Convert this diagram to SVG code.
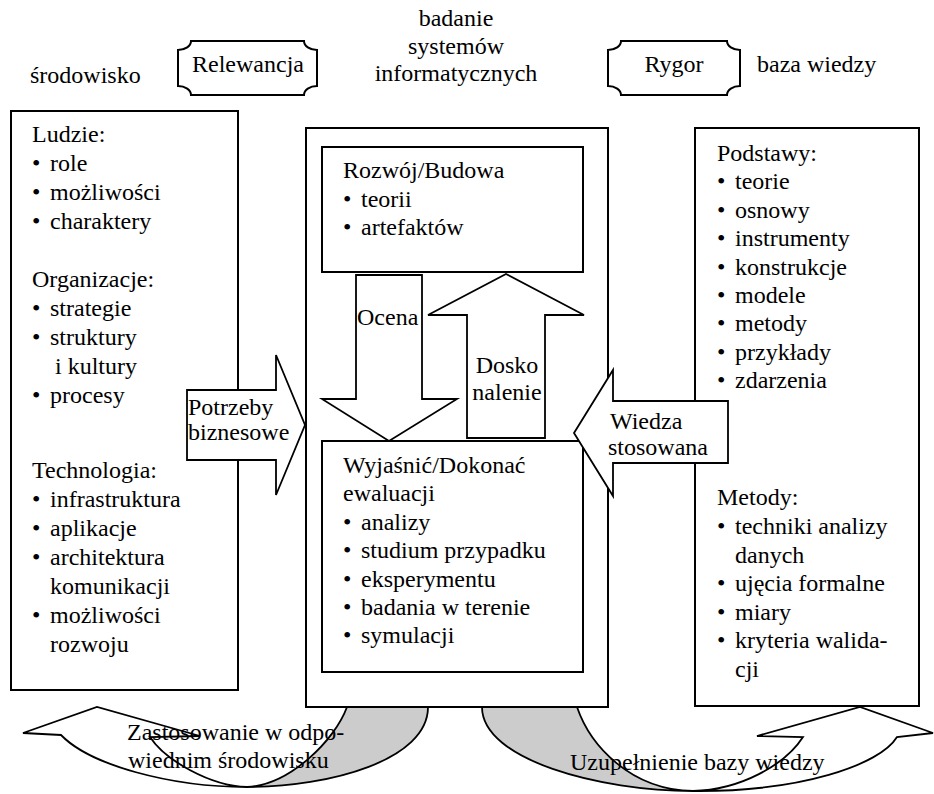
<svg xmlns="http://www.w3.org/2000/svg" width="934" height="794" viewBox="0 0 934 794">
<style>
.t{font-family:'Liberation Serif','DejaVu Serif','Noto Serif','Times New Roman',Times,serif;font-size:24px;fill:#000}
.c{text-anchor:middle}
.box{fill:#fff;stroke:#000;stroke-width:2}
.ar{fill:#fff;stroke:#000;stroke-width:1.8;stroke-linejoin:miter}
.gr{fill:#cccccc;stroke:#000;stroke-width:1.8}
.pl{fill:#fff;stroke:#000;stroke-width:2}
</style>
<rect width="934" height="794" fill="#fff"/>

<g id="top-labels" font-family="Liberation Serif, serif">
<text class="t" x="30" y="83">środowisko</text>
<text class="t c" x="456" y="26">badanie</text>
<text class="t c" x="456" y="54">systemów</text>
<text class="t c" x="456" y="81">informatycznych</text>
<text class="t" x="757" y="72">baza wiedzy</text>
</g>

<g id="relewancja">
<path class="pl" d="M191,41 H304 A13 9 0 0 0 317,50 V86 A13 9 0 0 0 304,95 H191 A13 9 0 0 0 178,86 V50 A13 9 0 0 0 191,41 Z"/>
<text class="t c" x="248" y="72">Relewancja</text>
</g>

<g id="rygor">
<path class="pl" d="M621,41 H727 A13 9 0 0 0 740,50 V86 A13 9 0 0 0 727,95 H621 A13 9 0 0 0 608,86 V50 A13 9 0 0 0 621,41 Z"/>
<text class="t c" x="674" y="72">Rygor</text>
</g>

<g id="srodowisko-box">
<rect class="box" x="11" y="111" width="227" height="579"/>
<text class="t" x="32" y="142">Ludzie:</text>
<text class="t"><tspan x="32" y="171">•</tspan><tspan x="50" y="171">role</tspan></text>
<text class="t"><tspan x="32" y="200">•</tspan><tspan x="50" y="200">możliwości</tspan></text>
<text class="t"><tspan x="32" y="229">•</tspan><tspan x="50" y="229">charaktery</tspan></text>
<text class="t" x="32" y="287">Organizacje:</text>
<text class="t"><tspan x="32" y="316">•</tspan><tspan x="50" y="316">strategie</tspan></text>
<text class="t"><tspan x="32" y="345">•</tspan><tspan x="50" y="345">struktury</tspan></text>
<text class="t" x="55" y="374">i kultury</text>
<text class="t"><tspan x="32" y="403">•</tspan><tspan x="50" y="403">procesy</tspan></text>
<text class="t" x="32" y="478">Technologia:</text>
<text class="t"><tspan x="32" y="507">•</tspan><tspan x="50" y="507">infrastruktura</tspan></text>
<text class="t"><tspan x="32" y="536">•</tspan><tspan x="50" y="536">aplikacje</tspan></text>
<text class="t"><tspan x="32" y="565">•</tspan><tspan x="50" y="565">architektura</tspan></text>
<text class="t" x="50" y="594">komunikacji</text>
<text class="t"><tspan x="32" y="623">•</tspan><tspan x="50" y="623">możliwości</tspan></text>
<text class="t" x="50" y="652">rozwoju</text>
</g>

<g id="baza-wiedzy-box">
<rect class="box" x="695" y="128" width="224" height="578"/>
<text class="t" x="717" y="161">Podstawy:</text>
<text class="t"><tspan x="717" y="189">•</tspan><tspan x="735" y="189">teorie</tspan></text>
<text class="t"><tspan x="717" y="218">•</tspan><tspan x="735" y="218">osnowy</tspan></text>
<text class="t"><tspan x="717" y="246">•</tspan><tspan x="735" y="246">instrumenty</tspan></text>
<text class="t"><tspan x="717" y="275">•</tspan><tspan x="735" y="275">konstrukcje</tspan></text>
<text class="t"><tspan x="717" y="303">•</tspan><tspan x="735" y="303">modele</tspan></text>
<text class="t"><tspan x="717" y="331">•</tspan><tspan x="735" y="331">metody</tspan></text>
<text class="t"><tspan x="717" y="360">•</tspan><tspan x="735" y="360">przykłady</tspan></text>
<text class="t"><tspan x="717" y="388">•</tspan><tspan x="735" y="388">zdarzenia</tspan></text>
<text class="t" x="717" y="505">Metody:</text>
<text class="t"><tspan x="717" y="534">•</tspan><tspan x="735" y="534">techniki analizy</tspan></text>
<text class="t" x="735" y="563">danych</text>
<text class="t"><tspan x="717" y="591">•</tspan><tspan x="735" y="591">ujęcia formalne</tspan></text>
<text class="t"><tspan x="717" y="620">•</tspan><tspan x="735" y="620">miary</tspan></text>
<text class="t"><tspan x="717" y="648">•</tspan><tspan x="735" y="648">kryteria walida-</tspan></text>
<text class="t" x="735" y="677">cji</text>
</g>

<g id="badanie-box">
<rect class="box" x="306" y="128" width="302" height="579"/>
</g>

<g id="rozwoj-box">
<rect class="box" x="322" y="147" width="261" height="125"/>
<text class="t" x="343" y="178">Rozwój/Budowa</text>
<text class="t"><tspan x="343" y="207">•</tspan><tspan x="361" y="207">teorii</tspan></text>
<text class="t"><tspan x="343" y="235">•</tspan><tspan x="361" y="235">artefaktów</tspan></text>
</g>

<g id="wyjasnic-box">
<rect class="box" x="322" y="441" width="261" height="231"/>
<text class="t" x="343" y="473">Wyjaśnić/Dokonać</text>
<text class="t" x="343" y="501">ewaluacji</text>
<text class="t"><tspan x="343" y="530">•</tspan><tspan x="361" y="530">analizy</tspan></text>
<text class="t"><tspan x="343" y="558">•</tspan><tspan x="361" y="558">studium przypadku</tspan></text>
<text class="t"><tspan x="343" y="587">•</tspan><tspan x="361" y="587">eksperymentu</tspan></text>
<text class="t"><tspan x="343" y="615">•</tspan><tspan x="361" y="615">badania w terenie</tspan></text>
<text class="t"><tspan x="343" y="643">•</tspan><tspan x="361" y="643">symulacji</tspan></text>
</g>

<g id="connectors">
<g id="zastosowanie">
<path class="gr" d="M347,707 H428 C428,760 330,787 247,787 C290,785 335,740 347,707 Z"/>
<path class="ar" d="M247,787 C170,787 90,765 61,735 L23,733 L97,707 L200,736 L150,737 C165,760 210,786 247,787 Z"/>
</g>
<g id="uzupelnienie">
<path class="gr" d="M482,707 H577 C590,745 630,790 693,791 C600,791 482,760 482,707 Z"/>
<path class="ar" d="M693,791 C740,790 785,765 803,737 L757,736 L860,707 L933,733 L897,737 C880,765 800,792 693,791 Z"/>
</g>
<polygon id="ocena" class="ar" points="356,275 422,275 422,399 457,399 389,441 322,399 356,399"/>
<polygon id="doskonalenie" class="ar" points="467,438 467,315 428,315 506,274 584,315 545,315 545,438"/>
<polygon id="potrzeby" class="ar" points="187,390 276,390 276,355 305,425 276,495 276,460 187,460"/>
<polygon id="wiedza" class="ar" points="728,401 613,401 613,370 574,433 613,496 613,463 728,463"/>
</g>

<g id="labels">
<text class="t" x="357" y="325">Ocena</text>
<text class="t c" x="507" y="373">Dosko</text>
<text class="t c" x="507" y="400">nalenie</text>
<text class="t" x="188" y="415">Potrzeby</text>
<text class="t" x="188" y="440">biznesowe</text>
<text class="t" x="610" y="429">Wiedza</text>
<text class="t" x="608" y="455">stosowana</text>
<text class="t" x="127" y="740">Zastosowanie w odpo-</text>
<text class="t" x="128" y="768">wiednim środowisku</text>
<text class="t" x="570" y="770">Uzupełnienie bazy wiedzy</text>
</g>
</svg>
